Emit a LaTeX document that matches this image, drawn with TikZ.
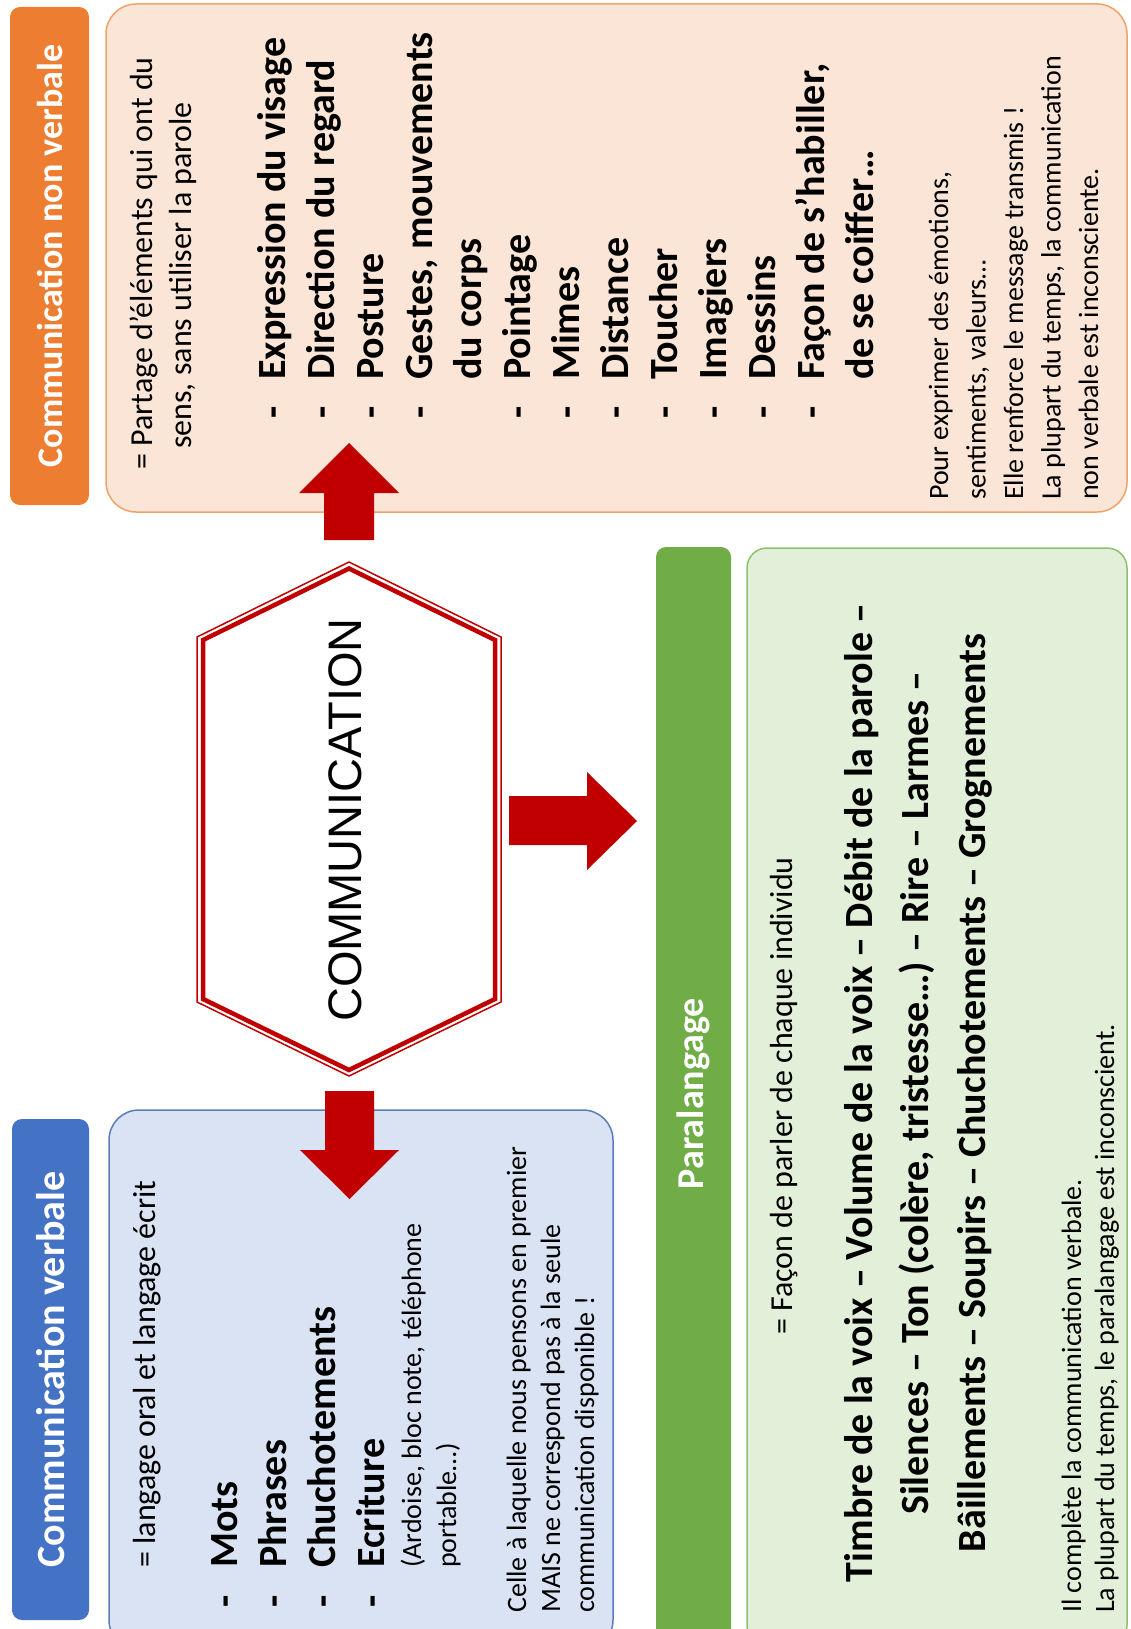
\documentclass[tikz,border=0pt]{standalone}
\usepackage{fontspec}
\setmainfont{Carlito}
\newfontfamily\hexfont{Liberation Sans}
\usetikzlibrary{positioning}
\frenchspacing

\definecolor{orangehd}{HTML}{ED7D31}
\definecolor{orangebg}{HTML}{FBE5D6}
\definecolor{orangeln}{HTML}{F0A26B}
\definecolor{bluehd}{HTML}{4472C4}
\definecolor{bluebg}{HTML}{DAE3F3}
\definecolor{blueln}{HTML}{5B7DBA}
\definecolor{greenhd}{HTML}{70AD47}
\definecolor{greenbg}{HTML}{E2F0D9}
\definecolor{greenln}{HTML}{8FC06E}
\definecolor{arrowred}{HTML}{C00000}

\begin{document}
\begin{tikzpicture}[x=1pt,y=-1pt,
  header/.style={rotate=90,rounded corners=10pt,text=white,inner sep=0pt},
  box/.style={rounded corners=30pt,line width=1.5pt,inner sep=0pt},
  body/.style={rotate=90,anchor=base west,inner sep=0pt,text width=1100pt,align=flush left,font=\fontsize{32}{39}\selectfont},
  items/.style={body,font=\fontsize{40}{49}\selectfont\bfseries},
  note/.style={body,font=\fontsize{28}{37.5}\selectfont}]

  \useasboundingbox[fill=white] (0,0) rectangle (1130,1629);
  \clip (0,0) rectangle (1130,1629);

  % boxes
  \node[box,draw=orangeln,fill=orangebg,minimum width=1021pt,minimum height=508pt] (nvbox) at (616.5,258) {};
  \node[box,draw=blueln,fill=bluebg,minimum width=504pt,minimum height=540pt] (vbox) at (361,1380) {};
  \node[box,rounded corners=20pt,draw=greenln,fill=greenbg,minimum width=380pt,minimum height=1097pt] (pbox) at (937,1096.5) {};

  % headers
  \node[header,fill=orangehd,minimum width=498pt,minimum height=79pt,font=\fontsize{36}{43}\selectfont\bfseries] (nvhead) at (49.5,256) {Communication non verbale};
  \node[header,fill=bluehd,minimum width=501pt,minimum height=77pt,font=\fontsize{40}{48}\selectfont\bfseries] (vhead) at (50.5,1369.5) {Communication verbale};
  \node[header,fill=greenhd,minimum width=1093pt,minimum height=75pt,font=\fontsize{38}{46}\selectfont\bfseries] (phead) at (693.5,1093.5) {Paralangage};

  % centre
  \draw[arrowred,line width=1.5pt] (349,562) -- (501,637) -- (501,1002) -- (349,1076) -- (197,1002) -- (197,637) -- cycle;
  \draw[arrowred,line width=4.5pt,line join=miter] (349,568.5) -- (495,640) -- (495,999) -- (349,1070) -- (203,999) -- (203,640) -- cycle;
  \node[rotate=90,inner sep=0pt,font=\hexfont\fontsize{47}{50}\selectfont] (comm) at (345,820) {COMMUNICATION};

  \fill[arrowred] (324,540) -- (324,493) -- (299,493) -- (349,443) -- (399,493) -- (374,493) -- (374,540) -- cycle;
  \fill[arrowred] (325,1091) -- (325,1150) -- (300,1150) -- (349.5,1199) -- (399,1150) -- (374,1150) -- (374,1091) -- cycle;
  \fill[arrowred] (509,796) -- (587,796) -- (587,772) -- (637,821) -- (587,870) -- (587,845) -- (509,845) -- cycle;

  % non verbale
  \node[body] (nvdef) at (152,470) {= Partage d’éléments qui ont du\\\hspace*{21pt}sens, sans utiliser la parole};
  \node[items] (nvlist) at (285,419) {\makebox[39pt][l]{-}Expression du visage\\
    \makebox[39pt][l]{-}Direction du regard\\
    \makebox[39pt][l]{-}Posture\\
    \makebox[39pt][l]{-}Gestes, mouvements\\
    \hspace*{39pt}du corps\\
    \makebox[39pt][l]{-}Pointage\\
    \makebox[39pt][l]{-}Mimes\\
    \makebox[39pt][l]{-}Distance\\
    \makebox[39pt][l]{-}Toucher\\
    \makebox[39pt][l]{-}Imagiers\\
    \makebox[39pt][l]{-}Dessins\\
    \makebox[39pt][l]{-}Façon de s’habiller,\\
    \hspace*{39pt}de se coiffer…};
  \node[note] (nvnote) at (948,500) {Pour exprimer des émotions,\\sentiments, valeurs…\\Elle renforce le message transmis !\\La plupart du temps, la communication\\non verbale est inconsciente.};

  % verbale
  \node[body] (vdef) at (155.5,1568) {= langage oral et langage écrit};
  \node[items] (vlist) at (237,1608) {\makebox[40pt][l]{-}Mots\\
    \makebox[40pt][l]{-}Phrases\\
    \makebox[40pt][l]{-}Chuchotements\\
    \makebox[40pt][l]{-}Ecriture};
  \node[note,font=\fontsize{28}{35}\selectfont] (vex) at (421,1568) {(Ardoise, bloc note, téléphone\\portable…)};
  \node[note,font=\fontsize{28}{34}\selectfont] (vnote) at (526,1613) {Celle à laquelle nous pensons en premier\\MAIS ne correspond pas à la seule\\communication disponible !};

  % paralangage
  \node[body] (pdef) at (792,1335) {= Façon de parler de chaque individu};
  \node[items,anchor=base,align=flush center,font=\fontsize{40}{56.5}\selectfont\bfseries] (plist) at (872,1093) {Timbre de la voix – Volume de la voix – Débit de la parole –\\Silences – Ton (colère, tristesse…) – Rire – Larmes –\\Bâillements – Soupirs – Chuchotements – Grognements};
  \node[note,font=\fontsize{28}{33}\selectfont] (pnote) at (1081,1613) {Il complète la communication verbale.\\La plupart du temps, le paralangage est inconscient.};
\end{tikzpicture}
\end{document}
